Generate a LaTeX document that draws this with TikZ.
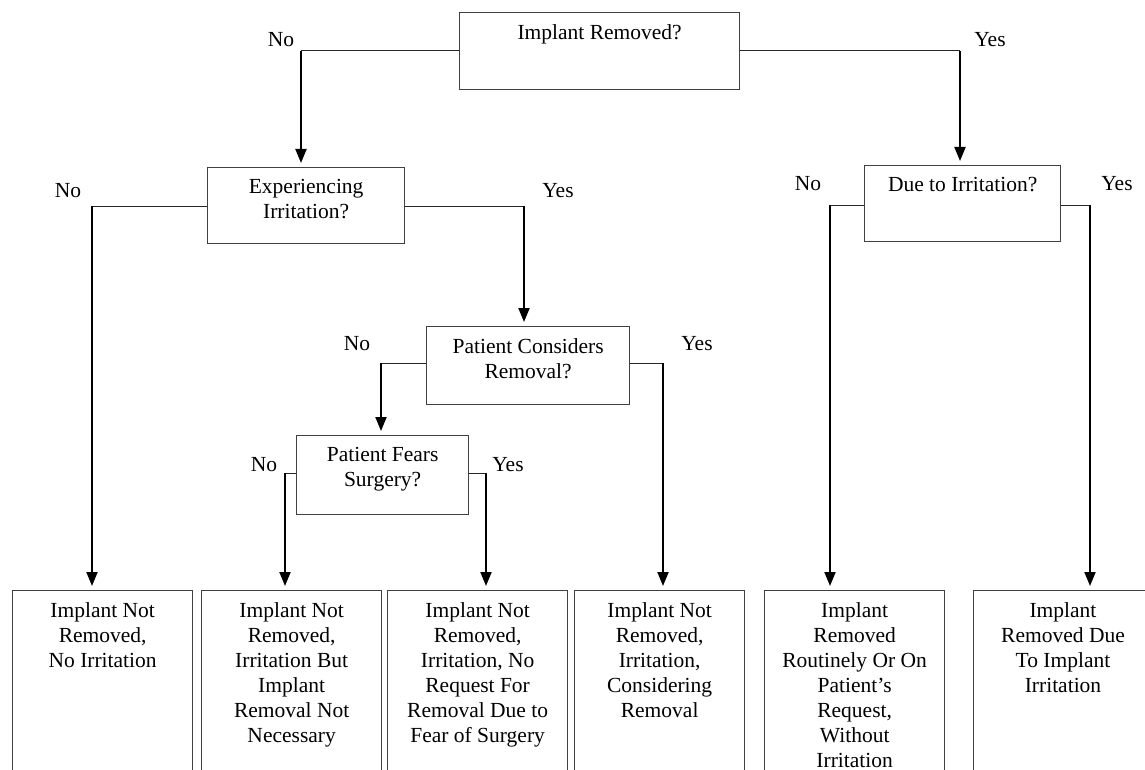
\documentclass[tikz,border=0pt]{standalone}
\usepackage{fontspec}
\setmainfont{Liberation Serif}
\usetikzlibrary{arrows.meta}
\begin{document}
\begin{tikzpicture}[x=1pt,y=-1pt,
  box/.style={draw=black!75, line width=1.3pt, anchor=north west, inner sep=0},
  txt/.style={anchor=north, align=center, inner sep=0, font=\fontsize{21.5}{25}\selectfont},
  hline/.style={line width=1pt, draw=black!85},
  vline/.style={line width=2pt, -{Triangle[length=14pt,width=11pt]}},
  lab/.style={font=\fontsize{21.5}{25}\selectfont, inner sep=0}]
\useasboundingbox (0,0) rectangle (1145,770);
\clip (0,0) rectangle (1145,770);

% decision boxes
\node[box, minimum width=280, minimum height=77] (top) at (459,12) {};
\node[box, minimum width=197, minimum height=76] (exp) at (207,167) {};
\node[box, minimum width=196, minimum height=76] (due) at (864,165) {};
\node[box, minimum width=203, minimum height=78] (cons) at (426,326) {};
\node[box, minimum width=172, minimum height=79] (fear) at (296,435) {};

\node[txt] (topT) at ([yshift=-12pt]top.north) {Implant Removed?};
\node[txt] (expT) at ([yshift=-12pt]exp.north) {Experiencing\\Irritation?};
\node[txt] (dueT) at ([yshift=-12pt]due.north) {Due to Irritation?};
\node[txt] (consT) at ([yshift=-12pt]cons.north) {Patient Considers\\Removal?};
\node[txt] (fearT) at ([yshift=-12pt]fear.north) {Patient Fears\\Surgery?};

% outcome boxes
\node[box, minimum width=180, minimum height=200] (b1) at (12,590) {};
\node[box, minimum width=180, minimum height=200] (b2) at (201,590) {};
\node[box, minimum width=180, minimum height=200] (b3) at (387,590) {};
\node[box, minimum width=170, minimum height=200] (b4) at (574,590) {};
\node[box, minimum width=180, minimum height=200] (b5) at (764,590) {};
\node[box, minimum width=190, minimum height=200] (b6) at (973,590) {};

\node[txt] (b1T) at ([yshift=-12pt]b1.north) {Implant Not\\Removed,\\No Irritation};
\node[txt] (b2T) at ([yshift=-12pt]b2.north) {Implant Not\\Removed,\\Irritation But\\Implant\\Removal Not\\Necessary};
\node[txt] (b3T) at ([yshift=-12pt]b3.north) {Implant Not\\Removed,\\Irritation, No\\Request For\\Removal Due to\\Fear of Surgery};
\node[txt] (b4T) at ([yshift=-12pt]b4.north) {Implant Not\\Removed,\\Irritation,\\Considering\\Removal};
\node[txt] (b5T) at ([yshift=-12pt]b5.north) {Implant\\Removed\\Routinely Or On\\Patient’s\\Request,\\Without\\Irritation};
\node[txt] (b6T) at ([yshift=-12pt]1063,590) {Implant\\Removed Due\\To Implant\\Irritation};

% branch corners
\coordinate (c1) at (301,51);
\coordinate (c2) at (960,51);
\coordinate (c3) at (92,206);
\coordinate (c4) at (524,206);
\coordinate (c5) at (830,205);
\coordinate (c6) at (1090,205);
\coordinate (c7) at (381,363);
\coordinate (c8) at (663,363);
\coordinate (c9) at (285,473);
\coordinate (c10) at (486,473);

\draw[hline] (top.west |- c1) -- (c1);
\draw[hline] (top.east |- c2) -- (c2);
\draw[hline] (exp.west |- c3) -- (c3);
\draw[hline] (exp.east |- c4) -- (c4);
\draw[hline] (due.west |- c5) -- (c5);
\draw[hline] (due.east |- c6) -- (c6);
\draw[hline] (cons.west |- c7) -- (c7);
\draw[hline] (cons.east |- c8) -- (c8);
\draw[hline] (fear.west |- c9) -- (c9);
\draw[hline] (fear.east |- c10) -- (c10);

\draw[vline] (c1) -- ([yshift=4pt]c1 |- exp.north);
\draw[vline] (c2) -- ([yshift=4pt]c2 |- due.north);
\draw[vline] (c3) -- ([yshift=4pt]c3 |- b1.north);
\draw[vline] (c4) -- ([yshift=4pt]c4 |- cons.north);
\draw[vline] (c5) -- ([yshift=4pt]c5 |- b5.north);
\draw[vline] (c6) -- ([yshift=4pt]c6 |- b6.north);
\draw[vline] (c7) -- ([yshift=4pt]c7 |- fear.north);
\draw[vline] (c8) -- ([yshift=4pt]c8 |- b4.north);
\draw[vline] (c9) -- ([yshift=4pt]c9 |- b2.north);
\draw[vline] (c10) -- ([yshift=4pt]c10 |- b3.north);

% branch labels
\node[lab] (l1) at (281,40) {No};
\node[lab] (l2) at (990,40) {Yes};
\node[lab] (l3) at (68,191) {No};
\node[lab] (l4) at (558,191) {Yes};
\node[lab] (l5) at (808,184) {No};
\node[lab] (l6) at (1117,184) {Yes};
\node[lab] (l7) at (357,344) {No};
\node[lab] (l8) at (697,344) {Yes};
\node[lab] (l9) at (264,465) {No};
\node[lab] (l10) at (508,465) {Yes};
\end{tikzpicture}
\end{document}
